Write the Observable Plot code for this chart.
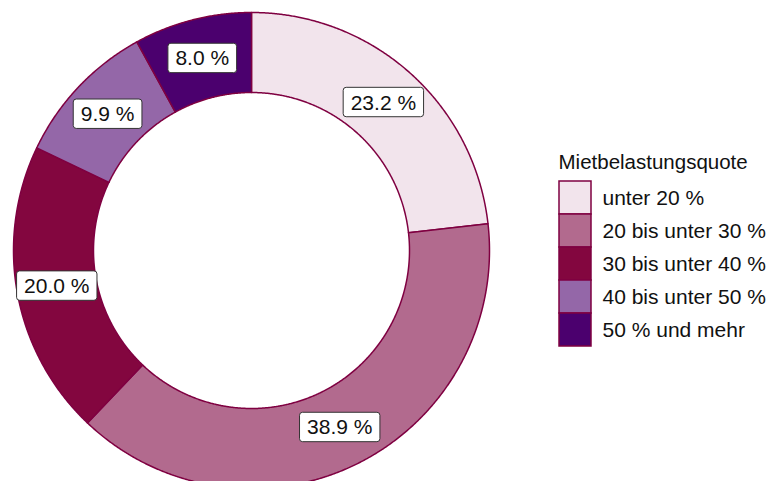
<!DOCTYPE html>
<html><head><meta charset="utf-8">
<script src="https://cdn.jsdelivr.net/npm/d3@7"></script>
<script src="https://cdn.jsdelivr.net/npm/@observablehq/plot@0.6"></script>
<style>html,body{margin:0;padding:0;background:#fff} svg{display:block}</style>
</head><body><div id="chart"></div>
<script>
// ---- data ----
const categories = ["unter 20 %", "20 bis unter 30 %", "30 bis unter 40 %", "40 bis unter 50 %", "50 % und mehr"];
const shares = [23.2, 38.9, 20.0, 9.9, 8.0];
const shareLabels = ["23.2 %", "38.9 %", "20.0 %", "9.9 %", "8.0 %"];
const colors = ["#f2e4ec", "#b26a8e", "#83063f", "#9467a8", "#4b006e"];
const legendTitle = "Mietbelastungsquote";

// ---- layout ----
const W = 767, H = 481;
const cx = 251, cy = 250;          // donut centre in px
const R = 238, r0 = 158;           // outer / inner radius
const rLab = (R + r0) / 2;
const edge = "#7f0041";
const font = "'Liberation Sans', Arial, Helvetica, sans-serif";

const arcs = d3.pie().sort(null).value(d => d)(shares);

// slice polygons (angle 0 at 12 o'clock, clockwise; y points up)
const poly = [];
arcs.forEach((a, i) => {
  const n = Math.max(4, Math.ceil((a.endAngle - a.startAngle) / 0.005));
  for (let k = 0; k <= n; k++) {
    const t = a.startAngle + (a.endAngle - a.startAngle) * k / n;
    poly.push({cat: categories[i], x: R * Math.sin(t), y: R * Math.cos(t)});
  }
  for (let k = n; k >= 0; k--) {
    const t = a.startAngle + (a.endAngle - a.startAngle) * k / n;
    poly.push({cat: categories[i], x: r0 * Math.sin(t), y: r0 * Math.cos(t)});
  }
});

const labelData = arcs.map((a, i) => {
  const m = (a.startAngle + a.endAngle) / 2;
  return {text: shareLabels[i], x: rLab * Math.sin(m), y: rLab * Math.cos(m)};
});

// legend (px positions converted to the chart's coordinate frame)
const legX = 559, legW = 32, legTop = 181, rowH = 33, legTextX = 602;
const legendData = categories.map((c, i) => ({
  cat: c,
  x1: legX - cx, x2: legX + legW - cx,
  y1: cy - (legTop + i * rowH), y2: cy - (legTop + (i + 1) * rowH),
  tx: legTextX - cx, ty: cy - (legTop + i * rowH + rowH / 2)
}));

const chart = Plot.plot({
  width: W, height: H,
  margin: 0,
  style: {fontFamily: font, background: "#fff"},
  x: {domain: [-cx, W - cx], axis: null},
  y: {domain: [-(H - cy), cy], axis: null},
  color: {type: "ordinal", domain: categories, range: colors},
  marks: [
    Plot.line(poly, {x: "x", y: "y", z: "cat", fill: "cat", stroke: edge, strokeWidth: 1.5, curve: "linear-closed"}),
    Plot.text(labelData, {x: "x", y: "y", text: "text", fontSize: 21, fill: "#111"}),
    Plot.rect(legendData, {x1: "x1", x2: "x2", y1: "y1", y2: "y2", fill: "cat", stroke: edge, strokeWidth: 1.5}),
    Plot.text(legendData, {x: "tx", y: "ty", text: "cat", textAnchor: "start", fontSize: 21, fill: "#111"}),
    Plot.text([legendTitle], {x: () => 558 - cx, y: () => cy - 161.5, text: d => d, textAnchor: "start", fontSize: 20.5, fill: "#111"})
  ]
});

document.getElementById("chart").appendChild(chart);

// white rounded boxes behind the slice labels (first text mark)
const NS = "http://www.w3.org/2000/svg";
const labelGroup = chart.querySelectorAll('g[aria-label="text"]')[0];
labelGroup.querySelectorAll("text").forEach(t => {
  const bb = t.getBBox();
  const rect = document.createElementNS(NS, "rect");
  const px = 7.5, py = 3.2;
  rect.setAttribute("x", bb.x - px);
  rect.setAttribute("y", bb.y - py);
  rect.setAttribute("width", bb.width + 2 * px);
  rect.setAttribute("height", bb.height + 2 * py);
  rect.setAttribute("rx", 3);
  rect.setAttribute("fill", "#fff");
  rect.setAttribute("stroke", "#333");
  rect.setAttribute("stroke-width", 1);
  if (t.getAttribute("transform")) rect.setAttribute("transform", t.getAttribute("transform"));
  t.parentNode.insertBefore(rect, t);
});
</script>
</body></html>
